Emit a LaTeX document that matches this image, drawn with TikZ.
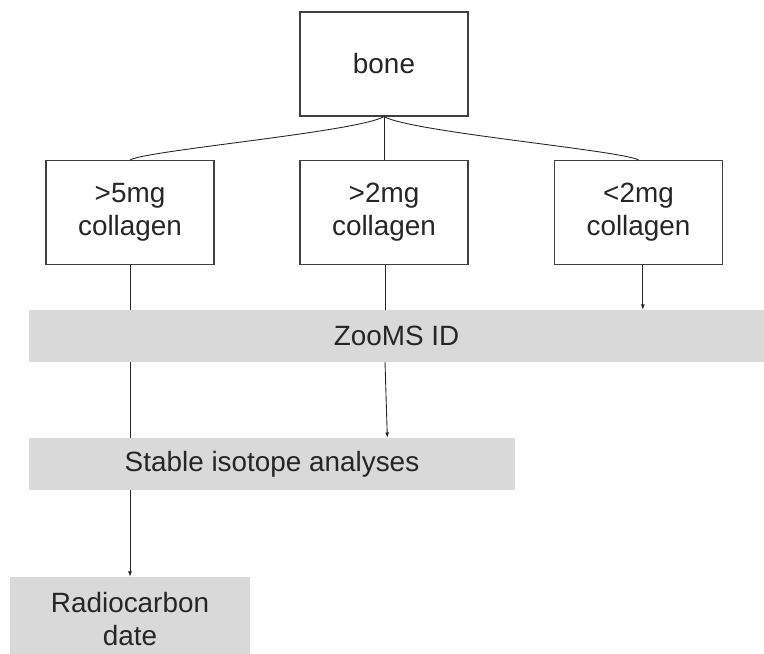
\documentclass[tikz,border=0pt]{standalone}
\usepackage{fontspec}
\setmainfont{Liberation Sans}
\usetikzlibrary{positioning,arrows.meta}

\definecolor{bargray}{HTML}{D9D9D9}
\definecolor{edgegray}{HTML}{404040}
\definecolor{inkgray}{HTML}{262626}

\tikzset{
  label font/.style={font=\fontsize{23.8}{28.2}\selectfont, text=inkgray},
  sample/.style={label font, draw=edgegray, line width=1.1pt, fill=white,
    minimum width=5.04cm, minimum height=3.12cm, inner sep=0pt, align=center},
  analysis/.style={label font, fill=bargray, inner sep=0pt,
    minimum height=1.56cm, align=center},
  flow/.style={draw=inkgray, line width=0.75pt},
}

\begin{document}
\begin{tikzpicture}[x=0.03cm,y=-0.03cm,>={Latex[length=4.5pt,width=3.4pt]}]
	% page size of the reference
	\clip (0,0) rectangle (764,654);

	% the sample and the three collagen yields
	\node[sample] (bone) at (384,64) {bone};
	\node[sample] (c5)  at (130,212.5)   {>5mg\\collagen};
	\node[sample] (c2)  at (384,212.5)   {>2mg\\collagen};
	\node[sample] (c0)  at (638.5,212.5) {<2mg\\collagen};

	% the analyses
	\node[analysis, minimum width=22.05cm] (zooms)  at (396.5,336) {ZooMS ID};
	\node[analysis, minimum width=14.58cm] (stable) at (272,464)   {Stable isotope analyses};
	\node[analysis, minimum width=7.2cm, minimum height=2.52cm] (radio) at (130,619) {Radiocarbon\\date};

	% split of the bone
	\draw[flow] (bone.south) .. controls (356,132) and (150,150) .. (c5.north);
	\draw[flow] (bone.south) -- (c2.north);
	\draw[flow] (bone.south) .. controls (412,132) and (618,150) .. (c0.north);

	% >5mg goes through every analysis
	\draw[flow] (c5.south) -- (c5.south |- zooms.north);
	\draw[flow] (zooms.south -| c5.south) -- (stable.north -| c5.south);
	\draw[flow,->] (stable.south -| c5.south) -- (radio.north);

	% >2mg gets ZooMS and isotopes
	\draw[flow] ([xshift=0.03cm]c2.south) -- ([xshift=0.03cm]c2.south |- zooms.north);
	\draw[flow,->] ([xshift=0.03cm]zooms.south -| c2.south) -- ([xshift=0.1cm]stable.north -| c2.south);

	% <2mg only ZooMS
	\draw[flow,->] ([xshift=0.13cm]c0.south) -- ([xshift=0.13cm]c0.south |- zooms.north);
\end{tikzpicture}
\end{document}
